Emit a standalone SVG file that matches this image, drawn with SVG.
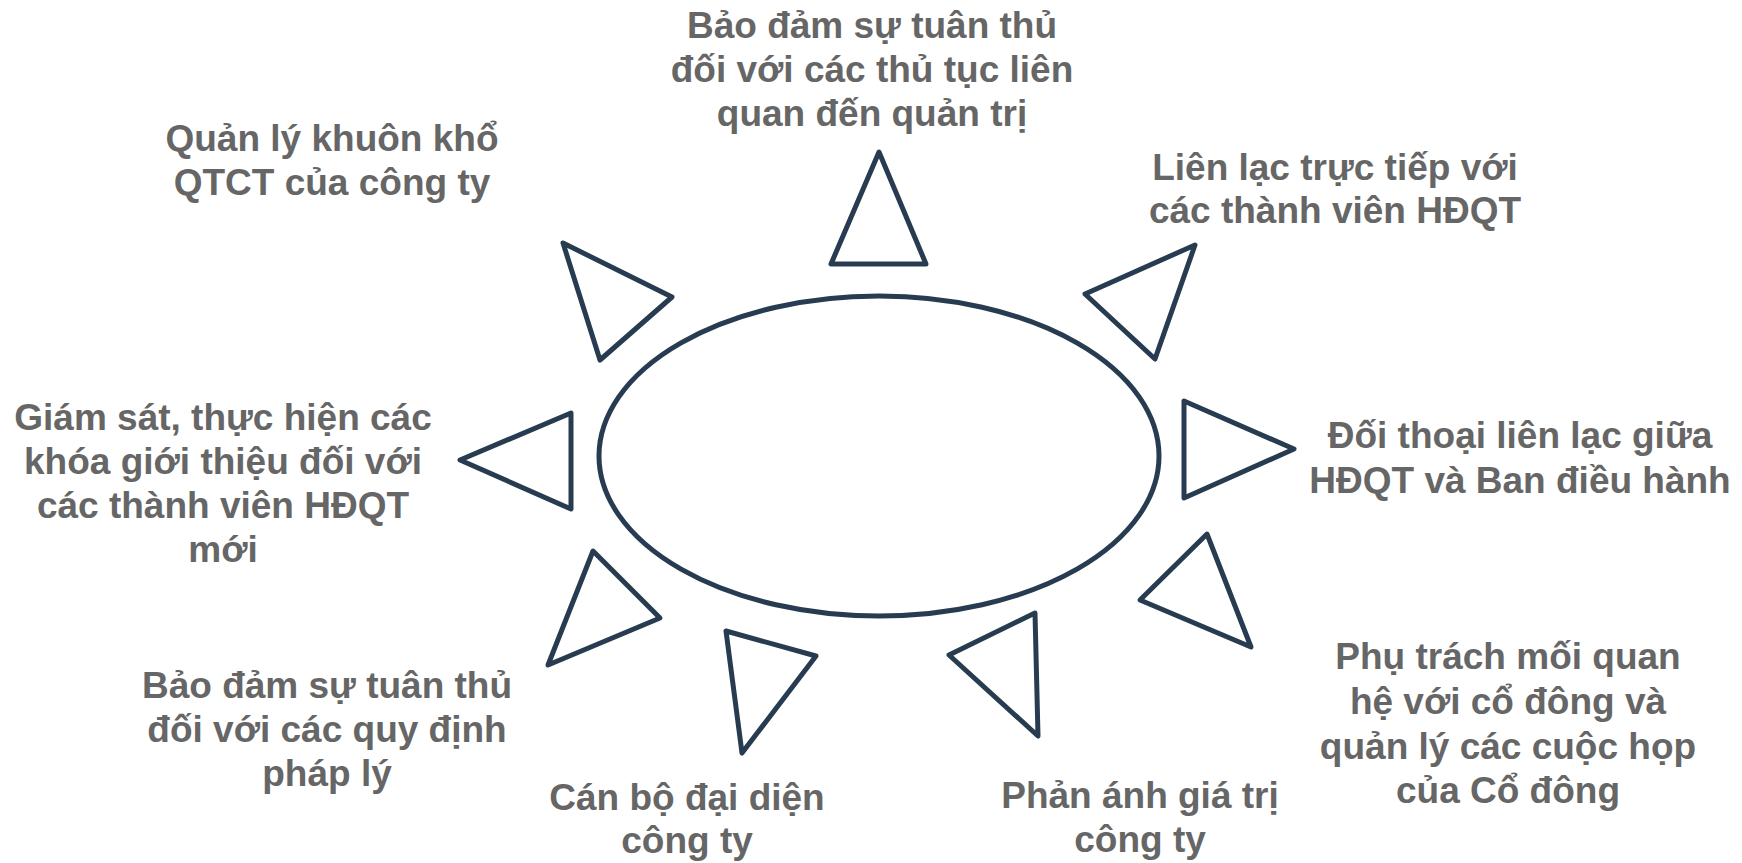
<svg xmlns="http://www.w3.org/2000/svg" width="1742" height="863" viewBox="0 0 1742 863">
<style>
.t{font-family:"Liberation Sans",Arial,sans-serif;font-weight:bold;font-size:37px;fill:#666666;text-anchor:middle}
.s{fill:none;stroke:#283C51;stroke-width:5;stroke-linejoin:round}
</style>
<rect width="1742" height="863" fill="#ffffff"/>
<g id="center">
<ellipse class="s" cx="879" cy="456" rx="280" ry="160"/>
</g>
<g id="connectors"></g>
<g id="n-top">
<polygon class="s" points="879,152 831,264 926,264"/>
<text class="t" x="872"><tspan x="872" y="38">Bảo đảm sự tuân thủ</tspan><tspan x="872" y="82">đối với các thủ tục liên</tspan><tspan x="872" y="126">quan đến quản trị</tspan></text>
</g>
<g id="n-topright">
<polygon class="s" points="1195,245 1085,294 1155,359"/>
<text class="t"><tspan x="1335" y="180">Liên lạc trực tiếp với</tspan><tspan x="1335" y="223">các thành viên HĐQT</tspan></text>
</g>
<g id="n-right">
<polygon class="s" points="1184,401 1294,449 1184,498"/>
<text class="t"><tspan x="1520" y="448">Đối thoại liên lạc giữa</tspan><tspan x="1520" y="493">HĐQT và Ban điều hành</tspan></text>
</g>
<g id="n-bottomright">
<polygon class="s" points="1207,534 1140,600 1251,647"/>
<text class="t"><tspan x="1508" y="669">Phụ trách mối quan</tspan><tspan x="1508" y="714">hệ với cổ đông và</tspan><tspan x="1508" y="759">quản lý các cuộc họp</tspan><tspan x="1508" y="803">của Cổ đông</tspan></text>
</g>
<g id="n-bottom-r">
<polygon class="s" points="1035,613 949,655 1038,736"/>
<text class="t"><tspan x="1140" y="808">Phản ánh giá trị</tspan><tspan x="1140" y="852">công ty</tspan></text>
</g>
<g id="n-bottom-l">
<polygon class="s" points="726,631 816,656 742,753"/>
<text class="t"><tspan x="687" y="810">Cán bộ đại diện</tspan><tspan x="687" y="853">công ty</tspan></text>
</g>
<g id="n-bottomleft">
<polygon class="s" points="593,551 660,618 548,665"/>
<text class="t"><tspan x="327" y="698">Bảo đảm sự tuân thủ</tspan><tspan x="327" y="742">đối với các quy định</tspan><tspan x="327" y="786">pháp lý</tspan></text>
</g>
<g id="n-left">
<polygon class="s" points="571,413 460,460 571,509"/>
<text class="t"><tspan x="223" y="430">Giám sát, thực hiện các</tspan><tspan x="223" y="474">khóa giới thiệu đối với</tspan><tspan x="223" y="518">các thành viên HĐQT</tspan><tspan x="223" y="562">mới</tspan></text>
</g>
<g id="n-topleft">
<polygon class="s" points="563,243 672,297 600,360"/>
<text class="t"><tspan x="332" y="151">Quản lý khuôn khổ</tspan><tspan x="332" y="195">QTCT của công ty</tspan></text>
</g>
</svg>
